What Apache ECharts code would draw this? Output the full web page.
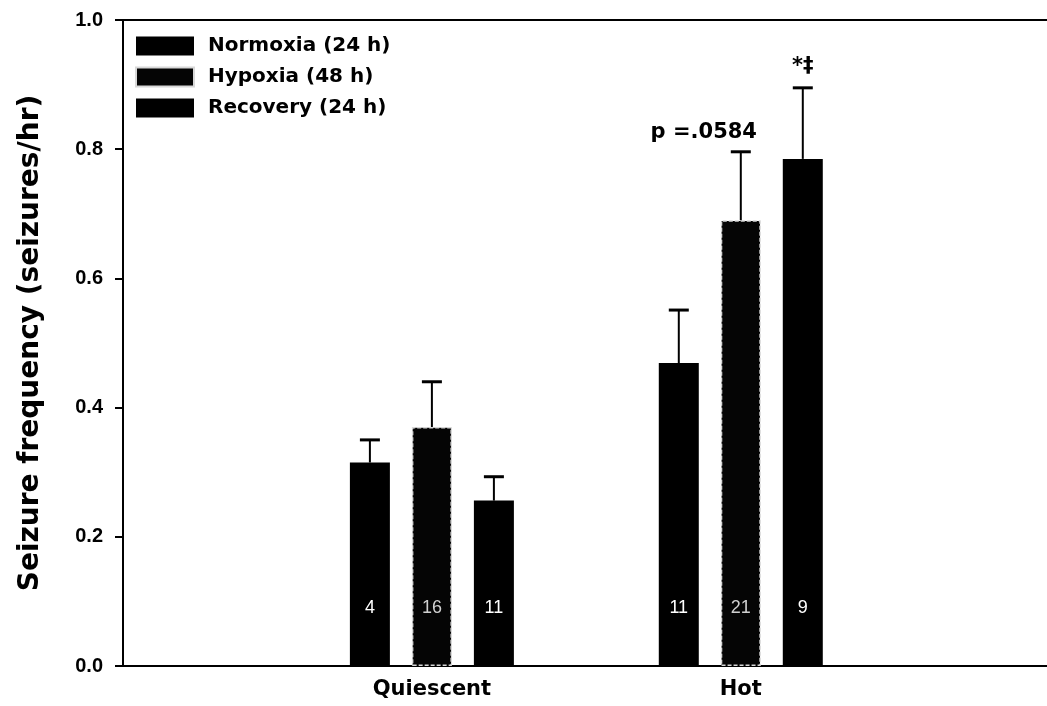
<!DOCTYPE html>
<html>
<head>
<meta charset="utf-8">
<script src="https://cdn.jsdelivr.net/npm/echarts@6/dist/echarts.min.js"></script>
<style>
  html, body { margin: 0; padding: 0; background: #fff; overflow: hidden; }
  /* plot frame runs slightly past the right edge of the page */
  #chart { width: 1060px; height: 706px; }
</style>
</head>
<body>
<div id="chart"></div>
<script>
// Seizure frequency by activity state and oxygen condition
const categories = ['Quiescent', 'Hot'];
const seriesNames = ['Normoxia (24 h)', 'Hypoxia (48 h)', 'Recovery (24 h)'];

const normoxia = [0.315, 0.469];
const hypoxia = [0.370, 0.690];
const recovery = [0.256, 0.785];

const normoxiaErr = [0.035, 0.082];
const hypoxiaErr = [0.070, 0.106];
const recoveryErr = [0.037, 0.110];

// sample sizes printed inside each bar
const normoxiaN = ['4', '11'];
const hypoxiaN = ['16', '21'];
const recoveryN = ['11', '9'];

// significance notes above error bars
const hypoxiaNotes = ['', 'p =.0584'];
const recoveryNotes = ['', '*\u2021'];

const yMin = 0, yMax = 1.0, yStep = 0.2;

// ---- layout / style constants ----
const BAR_W = 40;
const BAR_GAP_PX = 22;
const BOLD = '"DejaVu Sans", sans-serif';
const ARIAL = '"Liberation Sans", Arial, sans-serif';

// category axis padded with blank slots on both sides so groups sit at 1 and 2
const axisCats = [' ', ...categories, '  '];
const pad = arr => [null, ...arr, null];

const groups = [
  { name: seriesNames[0], vals: normoxia, err: normoxiaErr, n: normoxiaN, notes: null },
  { name: seriesNames[1], vals: hypoxia, err: hypoxiaErr, n: hypoxiaN, notes: hypoxiaNotes },
  { name: seriesNames[2], vals: recovery, err: recoveryErr, n: recoveryN, notes: recoveryNotes }
];

const noteOffset = {
  'p =.0584': [-37, -19],
  '*\u2021': [0, -21]
};

const barSeries = groups.map((g, gi) => ({
  name: g.name,
  type: 'bar',
  data: pad(g.vals),
  barWidth: BAR_W,
  barGap: (BAR_GAP_PX / BAR_W * 100) + '%',
  itemStyle: gi === 1
    ? { color: '#050505', borderColor: '#d8d8d8', borderWidth: 1.5, borderType: [4, 2] }
    : { color: '#000' },
  label: {
    show: true,
    position: 'insideBottom',
    distance: 49,
    color: gi === 1 ? '#d0d0d0' : '#fff',
    fontFamily: ARIAL,
    fontSize: 18,
    formatter: p => g.n[p.dataIndex - 1]
  },
  emphasis: { disabled: true },
  z: 2
}));

const errorSeries = groups.map((g, gi) => ({
  type: 'custom',
  name: g.name + ' err',
  data: g.vals.map((v, i) => [i + 1, v, g.err[i]]),
  z: 3,
  silent: true,
  renderItem: (params, api) => {
    const dx = (gi - 1) * (BAR_W + BAR_GAP_PX);
    const base = api.coord([api.value(0), api.value(1)]);
    const top = api.coord([api.value(0), api.value(1) + api.value(2)]);
    const x = base[0] + dx;
    const children = [
      { type: 'line', shape: { x1: x, y1: base[1], x2: x, y2: top[1] },
        style: { stroke: '#000', lineWidth: 2 } },
      { type: 'line', shape: { x1: x - 10, y1: top[1], x2: x + 10, y2: top[1] },
        style: { stroke: '#000', lineWidth: 3 } }
    ];
    const note = g.notes ? g.notes[params.dataIndex] : '';
    if (note) {
      const off = noteOffset[note] || [0, -20];
      children.push({
        type: 'text',
        style: {
          x: x + off[0], y: top[1] + off[1],
          text: note, fill: '#000',
          font: 'bold 21px ' + BOLD,
          align: 'center', verticalAlign: 'middle'
        }
      });
    }
    return { type: 'group', children };
  }
}));

const chart = echarts.init(document.getElementById('chart'), null, { renderer: 'canvas' });
chart.setOption({
  animation: false,
  backgroundColor: '#fff',
  grid: {
    left: 123, top: 20, right: 3, bottom: 40,
    show: true, borderColor: '#000', borderWidth: 2, backgroundColor: 'transparent'
  },
  legend: {
    data: seriesNames,
    orient: 'vertical',
    left: 130, top: 31,
    icon: 'rect',
    itemWidth: 58, itemHeight: 19, itemGap: 10.5,
    selectedMode: false,
    textStyle: { fontFamily: BOLD, fontWeight: 'bold', fontSize: 20, color: '#000', padding: [0, 0, 0, 9] }
  },
  xAxis: {
    type: 'category',
    data: axisCats,
    boundaryGap: false,
    axisLine: { lineStyle: { color: '#000', width: 2 } },
    axisTick: { show: false },
    axisLabel: { color: '#000', fontFamily: BOLD, fontWeight: 'bold', fontSize: 21, margin: 13, interval: 0 },
    splitLine: { show: false }
  },
  yAxis: {
    type: 'value',
    min: yMin, max: yMax, interval: yStep,
    name: 'Seizure frequency (seizures/hr)',
    nameLocation: 'middle',
    nameGap: 78,
    nameTextStyle: { color: '#000', fontFamily: BOLD, fontWeight: 'bold', fontSize: 28 },
    axisLine: { show: true, lineStyle: { color: '#000', width: 2 } },
    axisTick: { show: true, length: 8, lineStyle: { color: '#000', width: 2 } },
    axisLabel: { color: '#000', fontFamily: ARIAL, fontWeight: 'bold', fontSize: 20, margin: 20,
                 formatter: v => v.toFixed(1) },
    splitLine: { show: false }
  },
  series: [...barSeries, ...errorSeries]
});
</script>
</body>
</html>
